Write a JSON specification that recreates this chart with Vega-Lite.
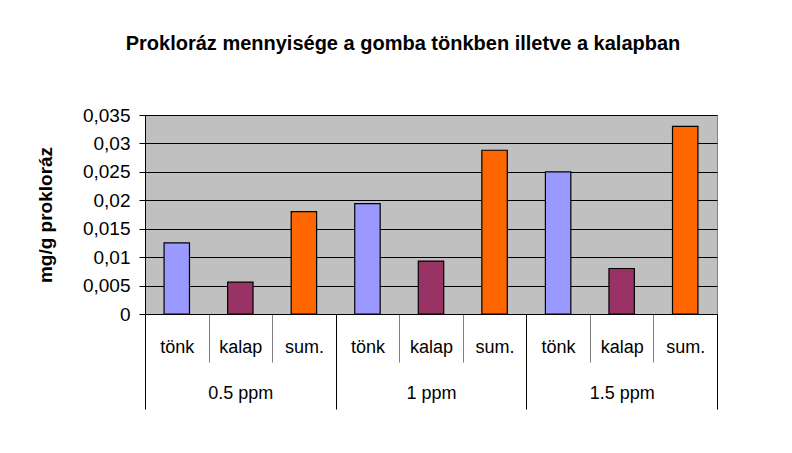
{
  "$schema": "https://vega.github.io/schema/vega-lite/v6.json",
  "width": 572,
  "height": 199,
  "autosize": "none",
  "padding": {"left": 145, "top": 115, "right": 75, "bottom": 139},
  "background": "white",
  "title": {
    "text": "Prokloráz mennyisége a gomba tönkben illetve a kalapban",
    "font": "Liberation Sans",
    "fontSize": 20,
    "fontWeight": "bold",
    "color": "black",
    "anchor": "middle",
    "offset": 52,
    "dx": -28
  },
  "config": {
    "font": "Liberation Sans",
    "view": {"fill": "#C0C0C0", "stroke": "#808080", "strokeWidth": 1}
  },
  "data": {
    "values": [
      {"group": "0.5 ppm", "part": "tönk", "key": "0.5 ppm|tönk", "value": 0.0125},
      {"group": "0.5 ppm", "part": "kalap", "key": "0.5 ppm|kalap", "value": 0.0056},
      {"group": "0.5 ppm", "part": "sum.", "key": "0.5 ppm|sum.", "value": 0.0180},
      {"group": "1 ppm", "part": "tönk", "key": "1 ppm|tönk", "value": 0.0194},
      {"group": "1 ppm", "part": "kalap", "key": "1 ppm|kalap", "value": 0.0093},
      {"group": "1 ppm", "part": "sum.", "key": "1 ppm|sum.", "value": 0.0288},
      {"group": "1.5 ppm", "part": "tönk", "key": "1.5 ppm|tönk", "value": 0.0250},
      {"group": "1.5 ppm", "part": "kalap", "key": "1.5 ppm|kalap", "value": 0.0080},
      {"group": "1.5 ppm", "part": "sum.", "key": "1.5 ppm|sum.", "value": 0.0330}
    ]
  },
  "encoding": {
    "y": {
      "field": "value",
      "type": "quantitative",
      "scale": {"domain": [0, 0.035], "nice": false, "zero": true},
      "axis": {
        "title": "mg/g prokloráz",
        "titleFont": "Liberation Sans",
        "titleFontSize": 19,
        "titleFontWeight": "bold",
        "titleColor": "black",
        "titleAngle": -90,
        "titleX": -100,
        "titleY": 99.5,
        "titleAlign": "center",
        "titleBaseline": "middle",
        "values": [0, 0.005, 0.01, 0.015, 0.02, 0.025, 0.03, 0.035],
        "labelOverlap": false,
        "labelExpr": "replace(format(datum.value, '~g'), '.', ',')",
        "labelFont": "Liberation Sans",
        "labelFontSize": 19,
        "labelColor": "black",
        "labelPadding": 9,
        "tickSize": 6,
        "tickColor": "black",
        "domainColor": "black",
        "grid": true,
        "gridColor": "black",
        "gridWidth": 1
      }
    }
  },
  "layer": [
    {
      "mark": {"type": "bar", "width": {"band": 0.4}, "stroke": "black", "strokeWidth": 1.2},
      "encoding": {
        "x": {
          "field": "key",
          "type": "nominal",
          "sort": null,
          "scale": {"paddingInner": 0, "paddingOuter": 0},
          "axis": {
            "orient": "bottom",
            "title": null,
            "labelExpr": "split(datum.value, '|')[1]",
            "labelAngle": 0,
            "labelFont": "Liberation Sans",
            "labelFontSize": 18,
            "labelColor": "black",
            "labelBaseline": "middle",
            "labelPadding": -15,
            "tickBand": "extent",
            "tickSize": 48,
            "tickColor": "#808080",
            "tickWidth": 1,
            "domainColor": "black",
            "domainWidth": 1,
            "grid": false
          }
        },
        "color": {
          "field": "part",
          "type": "nominal",
          "scale": {"domain": ["tönk", "kalap", "sum."], "range": ["#9999FF", "#993366", "#FF6600"]},
          "legend": null
        }
      }
    },
    {
      "mark": {"type": "point", "opacity": 0},
      "encoding": {
        "x": {
          "field": "group",
          "type": "nominal",
          "sort": null,
          "scale": {"paddingInner": 0, "paddingOuter": 0},
          "axis": {
            "orient": "bottom",
            "title": null,
            "labelAngle": 0,
            "labelFont": "Liberation Sans",
            "labelFontSize": 18,
            "labelColor": "black",
            "labelBaseline": "middle",
            "labelPadding": -16,
            "tickBand": "extent",
            "tickSize": 95,
            "tickColor": "black",
            "tickWidth": 1,
            "domain": false,
            "grid": false
          }
        }
      }
    }
  ],
  "resolve": {"scale": {"x": "independent"}, "axis": {"x": "independent"}}
}
